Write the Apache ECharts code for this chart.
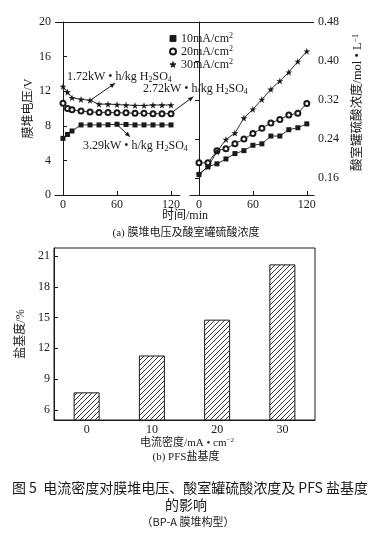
<!DOCTYPE html>
<html><head><meta charset="utf-8">
<script src="https://cdn.jsdelivr.net/npm/echarts@6/dist/echarts.min.js"></script>
<style>html,body{margin:0;padding:0;background:#fff}#c{width:391px;height:544px}</style>
</head><body><div id="c"></div>
<script>
// ---- data ----
const timeVolt = [0, 5, 10, 20, 30, 40, 50, 60, 70, 80, 90, 100, 110, 120];
const volt10 = [6.55, 7.0, 7.4, 8.1, 8.1, 8.1, 8.12, 8.18, 8.15, 8.1, 8.1, 8.1, 8.1, 8.1];
const volt20 = [10.6, 10.0, 9.85, 9.7, 9.6, 9.55, 9.55, 9.5, 9.5, 9.45, 9.45, 9.4, 9.4, 9.4];
const volt30 = [12.55, 11.9, 11.25, 11.05, 10.95, 10.5, 10.5, 10.45, 10.4, 10.35, 10.35, 10.4, 10.4, 10.4];
const timeAcid = [0, 10, 20, 30, 40, 50, 60, 70, 80, 90, 100, 110, 120];
const acid10 = [0.167, 0.183, 0.189, 0.199, 0.210, 0.216, 0.227, 0.230, 0.246, 0.246, 0.259, 0.263, 0.271];
const acid20 = [0.191, 0.191, 0.216, 0.220, 0.230, 0.240, 0.251, 0.262, 0.273, 0.280, 0.289, 0.293, 0.313];
const acid30 = [0.168, 0.183, 0.214, 0.239, 0.252, 0.283, 0.301, 0.321, 0.342, 0.359, 0.377, 0.399, 0.420];
const densityCats = ['0', '10', '20', '30'];
const basicity = [7.7, 11.3, 14.8, 20.2];
const timeTicks = [0, 60, 120];
const voltTicks = [0, 4, 8, 12, 16, 20];
const acidTicks = [0.16, 0.24, 0.32, 0.40, 0.48];
const basTicks = [6, 9, 12, 15, 18, 21];
const seriesNames = ['10mA', '20mA', '30mA'];

// ---- style ----
const FONT = "'Liberation Serif','Noto Sans CJK SC',serif";
const INK = '#1a1a1a';
const STAR = 'path://M50,0 L61,35 L98,35 L68,57 L79,91 L50,70 L21,91 L32,57 L2,35 L39,35 Z';
const symbols = ['rect', 'emptyCircle', STAR];
const symSizes = [5, 5, 7];

const pc = document.createElement('canvas');
pc.width = 5; pc.height = 5;
const g = pc.getContext('2d');
g.fillStyle = '#fff'; g.fillRect(0, 0, 5, 5);
g.strokeStyle = '#222'; g.lineWidth = 0.9;
g.beginPath(); g.moveTo(-1, 6); g.lineTo(6, -1); g.stroke();
g.beginPath(); g.moveTo(-1, 1); g.lineTo(1, -1); g.stroke();
g.beginPath(); g.moveTo(4, 6); g.lineTo(6, 4); g.stroke();

function tickAxis(vals, extra) {
  return Object.assign({
    type: 'value',
    axisLine: { show: true, lineStyle: { color: INK, width: 1 } },
    axisTick: { show: true, inside: true, length: 4, customValues: vals, lineStyle: { color: INK } },
    axisLabel: { customValues: vals, color: INK, fontFamily: FONT, fontSize: 12, margin: 4 },
    splitLine: { show: false }
  }, extra);
}

function arrow(x1, y1, x2, y2) {
  const a = Math.atan2(y2 - y1, x2 - x1), L = 5, W = 2.2;
  const p1 = [x2 - L * Math.cos(a) + W * Math.sin(a), y2 - L * Math.sin(a) - W * Math.cos(a)];
  const p2 = [x2 - L * Math.cos(a) - W * Math.sin(a), y2 - L * Math.sin(a) + W * Math.cos(a)];
  return [
    { type: 'line', shape: { x1, y1, x2, y2 }, style: { stroke: INK, lineWidth: 1 } },
    { type: 'polygon', shape: { points: [[x2, y2], p1, p2] }, style: { fill: INK } }
  ];
}
const subRich = {
  t: { fontFamily: FONT, fontSize: 12, fill: INK, lineHeight: 14 },
  b: { fontFamily: FONT, fontSize: 8, fill: INK, lineHeight: 14, padding: [6, 0, 0, 0] }
};
function annot(x, y, val) {
  return { type: 'text', left: x, top: y, style: { text: '{t|' + val + 'kW • h/kg H}{b|2}{t|SO}{b|4}', rich: subRich, fill: INK } };
}
function label(cx, y, text, size, font) {
  return { type: 'text', x: cx, y: y, style: { text: text, font: size + 'px ' + (font || FONT), fill: INK, align: 'center', verticalAlign: 'middle' } };
}

function mkSeries(d, i, times, axis) {
  return {
    name: seriesNames[i], type: 'line', xAxisIndex: axis, yAxisIndex: axis,
    data: times.map((t, k) => [t, d[k]]),
    symbol: symbols[i], symbolSize: symSizes[i], showAllSymbol: true,
    lineStyle: { color: INK, width: 0.9 },
    itemStyle: { color: INK, borderColor: INK, borderWidth: i === 1 ? 0.9 : 0 },
    z: 3 + i
  };
}
const lineSeries = [];
[volt10, volt20, volt30].forEach((d, i) => lineSeries.push(mkSeries(d, i, timeVolt, 0)));
[acid10, acid20, acid30].forEach((d, i) => lineSeries.push(mkSeries(d, i, timeAcid, 1)));

const chart = echarts.init(document.getElementById('c'), null, { renderer: 'canvas' });
chart.setOption({
  animation: false,
  backgroundColor: '#fff',
  grid: [
    { left: 55, top: 22, width: 125, height: 173 },
    { left: 190, top: 22, width: 124, height: 173 },
    { left: 54, top: 248, width: 261, height: 172, show: true, borderColor: INK, borderWidth: 1 }
  ],
  legend: {
    left: 164, top: 27, orient: 'vertical', itemGap: 0, itemWidth: 6, itemHeight: 6,
    data: seriesNames.map((n, i) => ({ name: n, icon: symbols[i] })),
    formatter: n => '{t|' + n + '/cm}{s|2}',
    itemStyle: { color: INK, borderColor: INK, borderWidth: 0.9 },
    textStyle: {
      rich: {
        t: { fontFamily: FONT, fontSize: 12, color: INK, lineHeight: 11 },
        s: { fontFamily: FONT, fontSize: 8, color: INK, lineHeight: 11, padding: [0, 0, 5, 0] }
      }
    }
  },
  xAxis: [
    tickAxis(timeTicks, { gridIndex: 0, min: -8.9, max: 130 }),
    tickAxis(timeTicks, { gridIndex: 1, min: -10, max: 128 }),
    { type: 'category', gridIndex: 2, data: densityCats,
      axisLine: { lineStyle: { color: INK } }, axisTick: { show: false },
      axisLabel: { color: INK, fontFamily: FONT, fontSize: 12, margin: 4 } }
  ],
  yAxis: [
    tickAxis(voltTicks, { gridIndex: 0, min: 0, max: 20,
      name: '膜堆电压/V', nameLocation: 'middle', nameRotate: 90, nameGap: 17,
      nameTextStyle: { fontFamily: FONT, fontSize: 12, color: INK } }),
    tickAxis(acidTicks, { gridIndex: 1, min: 0.125, max: 0.48, position: 'right',
      axisLabel: { customValues: acidTicks, color: INK, fontFamily: FONT, fontSize: 12, margin: 4, formatter: v => v.toFixed(2) },
      name: '{a|酸室罐硫酸浓度/mol • L}{s|−1}', nameLocation: 'middle', nameRotate: 90, nameGap: 37,
      nameTextStyle: { color: INK, padding: [0, 0, 0, 12], rich: {
        a: { fontFamily: FONT, fontSize: 12.5, color: INK, lineHeight: 14 },
        s: { fontFamily: FONT, fontSize: 8, color: INK, lineHeight: 14, padding: [0, 0, 5, 0] } } } }),
    tickAxis(basTicks, { gridIndex: 2, min: 5, max: 21.8,
      name: '盐基度/%', nameLocation: 'middle', nameRotate: 90, nameGap: 15,
      nameTextStyle: { fontFamily: FONT, fontSize: 12, color: INK } })
  ],
  series: lineSeries.concat([{
    type: 'bar', xAxisIndex: 2, yAxisIndex: 2, data: basicity, barWidth: 26,
    itemStyle: { color: { image: pc, repeat: 'repeat' }, borderColor: INK, borderWidth: 1 }
  }]),
  graphic: [
    { type: 'line', shape: { x1: 55, y1: 22.5, x2: 314, y2: 22.5 }, style: { stroke: INK, lineWidth: 1 } },
    annot(67, 70, '1.72'),
    annot(143, 82, '2.72'),
    annot(83, 139, '3.29'),
    ...arrow(90.7, 100, 115, 83.3),
    ...arrow(170.7, 113.3, 193.3, 96.7),
    ...arrow(117.3, 125, 130, 136.7),
    label(185, 216, '时间/min', 12),
    label(186, 233, '(a) 膜堆电压及酸室罐硫酸浓度', 11),
    { type: 'text', x: 187, y: 443, style: { text: '{a|电流密度/mA • cm}{s|−2}', align: 'center', verticalAlign: 'middle',
      rich: { a: { fontFamily: FONT, fontSize: 11, fill: INK, lineHeight: 12 }, s: { fontFamily: FONT, fontSize: 7, fill: INK, lineHeight: 12, padding: [0, 0, 5, 0] } } } },
    label(186, 457, '(b) PFS盐基度', 11),
    label(190, 488, '图 5  电流密度对膜堆电压、酸室罐硫酸浓度及 PFS 盐基度', 14, "'Noto Sans CJK SC',sans-serif"),
    label(186, 505, '的影响', 14, "'Noto Sans CJK SC',sans-serif"),
    label(188, 522, '（BP-A 膜堆构型）', 11, "'Noto Sans CJK SC',sans-serif")
  ]
});
</script></body></html>
